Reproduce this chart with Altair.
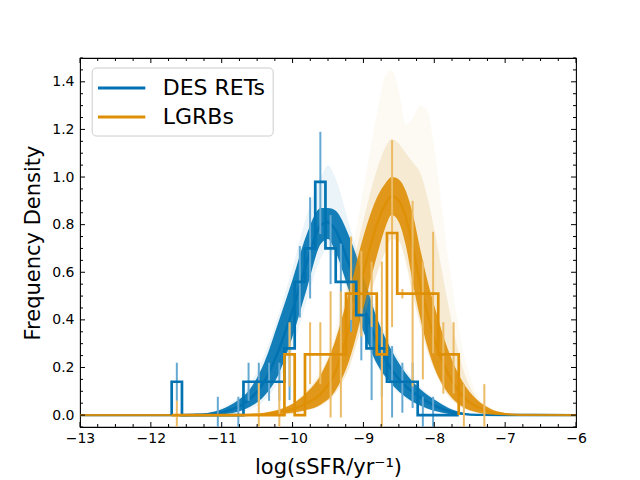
import altair as alt
import pandas as pd

BLUE = '#0173b2'
ORANGE = '#de8f05'
BLUE_ERR = '#65a9d3'
ORANGE_ERR = '#ebbb66'
SERIES = ['DES RETs', 'LGRBs']

# histogram bin edges (log sSFR)
BIN_EDGES = [-11.706, -11.561, -11.417, -11.272, -11.127, -10.983, -10.838, -10.693,
             -10.549, -10.404, -10.259, -10.115, -9.970, -9.825, -9.680, -9.536,
             -9.391, -9.246, -9.102, -8.957, -8.812, -8.668, -8.523, -8.378,
             -8.234, -8.089, -7.944, -7.800, -7.655, -7.510, -7.366, -7.221]

BLUE_HIST = [0.14, 0, 0, 0, 0, 0, 0, 0.14, 0.14, 0.14, 0.14, 0.28, 0.56, 0.70,
             0.98, 0.70, 0.56, 0.56, 0.42, 0.28, 0.28, 0.14, 0.14, 0.14, 0, 0, 0, 0]
ORANGE_HIST = [0, 0, 0, 0, 0, 0, 0, 0, 0, 0, 0, 0.255, 0, 0.255, 0.255, 0.255, 0.255,
               0.51, 0.51, 0.51, 0.255, 0.765, 0.51, 0.51, 0.51, 0.51, 0.255, 0.255]

# error bars (bin index, low, high)
BLUE_ERR_BIN = [0, 4, 6, 7, 8, 9, 10, 11, 12, 13, 14, 15, 16, 17, 18, 19, 20, 21, 22, 23, 24, 25]
BLUE_ERR_LO = [0.06, -0.06, -0.06, 0.06, 0.06, 0.06, 0.06, 0.063, 0.41, 0.49, 0.76, 0.55,
               0.35, 0.35, 0.23, 0.063, 0.077, -0.01, 0.01, 0.03, -0.06, -0.06]
BLUE_ERR_HI = [0.22, 0.077, 0.077, 0.22, 0.22, 0.22, 0.22, 0.385, 0.71, 0.915, 1.19, 0.84,
               0.72, 0.72, 0.45, 0.50, 0.36, 0.29, 0.22, 0.22, 0.077, 0.077]
ORANGE_ERR_BIN = [0, 8, 10, 11, 13, 14, 15, 16, 17, 18, 19, 20, 21, 22, 23, 24, 25, 26, 27, 28, 30]
ORANGE_ERR_LO = [-0.06, -0.06, -0.06, 0.12, 0.13, 0.13, -0.01, -0.01, 0.40, 0.33, 0.37, -0.06,
                 0.37, 0.49, 0.12, 0.15, 0.26, 0.09, 0.09, -0.06, -0.06]
ORANGE_ERR_HI = [0.06, 0.134, 0.134, 0.39, 0.39, 0.39, 0.52, 0.52, 0.75, 0.69, 0.645, 0.645,
                 1.155, 0.53, 0.90, 0.645, 0.77, 0.39, 0.39, 0.13, 0.13]

# fitted-curve bands
BLUE_X = [-13.0, -11.6, -11.4, -11.2, -11.0, -10.8, -10.6, -10.4, -10.2, -10.0, -9.8, -9.6, -9.5,
          -9.4, -9.2, -9.0, -8.8, -8.6, -8.4, -8.2, -8.0, -7.8, -7.6, -7.4, -6.0]
BLUE_MID = [0, 0, 0.001, 0.003, 0.012, 0.03, 0.068, 0.14, 0.27, 0.44, 0.64, 0.80, 0.81,
            0.78, 0.63, 0.46, 0.30, 0.19, 0.12, 0.075, 0.04, 0.017, 0.005, 0.001, 0]
BLUE_LO = [0, 0, 0, 0, 0.003, 0.012, 0.035, 0.08, 0.17, 0.33, 0.53, 0.72, 0.74,
           0.69, 0.52, 0.35, 0.21, 0.13, 0.075, 0.04, 0.018, 0.005, 0.001, 0, 0]
BLUE_HI = [0, 0, 0.002, 0.009, 0.025, 0.056, 0.11, 0.22, 0.39, 0.57, 0.76, 0.87, 0.87,
           0.86, 0.75, 0.58, 0.40, 0.27, 0.175, 0.11, 0.065, 0.03, 0.011, 0.002, 0]
BLUE_FAINT_LO = [0, 0, 0, 0, 0.002, 0.008, 0.025, 0.06, 0.14, 0.28, 0.48, 0.66, 0.70,
                 0.66, 0.50, 0.33, 0.20, 0.12, 0.07, 0.035, 0.015, 0.004, 0.001, 0, 0]
BLUE_FAINT_HI = [0, 0, 0.004, 0.012, 0.03, 0.065, 0.13, 0.25, 0.42, 0.62, 0.84, 1.0, 1.05,
                 1.0, 0.80, 0.60, 0.42, 0.29, 0.19, 0.12, 0.07, 0.035, 0.012, 0.003, 0]

ORANGE_X = [-13.0, -10.8, -10.6, -10.4, -10.2, -10.0, -9.8, -9.6, -9.4, -9.2, -9.0, -8.8, -8.7,
            -8.6, -8.5, -8.4, -8.3, -8.2, -8.1, -8.0, -7.8, -7.6, -7.4, -7.2, -7.0, -6.8, -6.0]
ORANGE_MID = [0, 0, 0.001, 0.004, 0.012, 0.025, 0.05, 0.09, 0.18, 0.37, 0.60, 0.81, 0.88,
              0.92, 0.90, 0.83, 0.70, 0.55, 0.43, 0.32, 0.17, 0.08, 0.035, 0.012, 0.004, 0.001, 0]
ORANGE_LO = [0, 0, 0, 0, 0.004, 0.01, 0.022, 0.045, 0.10, 0.23, 0.45, 0.68, 0.78,
             0.84, 0.81, 0.71, 0.55, 0.41, 0.29, 0.20, 0.09, 0.035, 0.012, 0.003, 0.001, 0, 0]
ORANGE_HI = [0, 0.001, 0.003, 0.009, 0.022, 0.048, 0.095, 0.17, 0.31, 0.52, 0.75, 0.92, 0.97,
             1.0, 0.99, 0.94, 0.84, 0.70, 0.57, 0.46, 0.27, 0.14, 0.065, 0.026, 0.009, 0.003, 0]
ORANGE_FAINT_LO = [0, 0, 0, 0, 0.002, 0.005, 0.02, 0.04, 0.09, 0.20, 0.40, 0.60, 0.68,
                   0.74, 0.73, 0.64, 0.50, 0.38, 0.27, 0.19, 0.08, 0.03, 0.01, 0.002, 0, 0, 0]
ORANGE_FAINT_HI = [0, 0.002, 0.006, 0.012, 0.025, 0.05, 0.10, 0.18, 0.32, 0.56, 0.82, 1.04, 1.12,
                   1.16, 1.14, 1.10, 1.06, 1.02, 0.92, 0.78, 0.46, 0.20, 0.07, 0.025, 0.008, 0.003, 0]
ORANGE_PALE_HI = [0, 0.002, 0.006, 0.012, 0.025, 0.05, 0.11, 0.20, 0.36, 0.62, 0.95, 1.28, 1.42,
                  1.45, 1.36, 1.22, 1.25, 1.30, 1.28, 1.12, 0.65, 0.28, 0.09, 0.03, 0.01, 0.003, 0]

X_MAJOR = [-13, -12, -11, -10, -9, -8, -7, -6]
X_MINOR = [m + q for m in X_MAJOR[:-1] for q in (0.25, 0.5, 0.75)]
Y_MAJOR = [0.0, 0.2, 0.4, 0.6, 0.8, 1.0, 1.2, 1.4]
Y_MINOR = [round(-0.05 + 0.05 * i, 2) for i in range(32)]
Y_MINOR = [v for v in Y_MINOR if all(abs(v - m) > 1e-6 for m in Y_MAJOR)]

W, H = 496, 369
XS = alt.Scale(domain=[-13, -6], nice=False, zero=False)
YS = alt.Scale(domain=[-0.05, 1.5], nice=False, zero=False)
FONT = 'DejaVu Sans'

X_AXIS = alt.Axis(values=X_MAJOR, format='d', title='log(sSFR/yr⁻¹)', ticks=False, domain=False,
                  grid=False, labelFontSize=14, labelPadding=4, titleFontSize=21,
                  titleFontWeight='normal', titlePadding=11, labelColor='black',
                  titleColor='black', labelFlush=False, labelOverlap=False,
                  labelFont=FONT, titleFont=FONT)
Y_AXIS = alt.Axis(values=Y_MAJOR, format='.1f', title='Frequency Density', ticks=False,
                  domain=False, grid=False, labelFontSize=14, labelPadding=6,
                  titleFontSize=21, titleFontWeight='normal', titlePadding=8,
                  labelColor='black', titleColor='black', labelFlush=False,
                  labelOverlap=False, labelFont=FONT, titleFont=FONT)

# ---- data tables
blue_band = pd.DataFrame({'x': BLUE_X, 'mid': BLUE_MID, 'lo': BLUE_LO, 'hi': BLUE_HI,
                          'flo': BLUE_FAINT_LO, 'fhi': BLUE_FAINT_HI})
orange_band = pd.DataFrame({'x': ORANGE_X, 'mid': ORANGE_MID, 'lo': ORANGE_LO, 'hi': ORANGE_HI,
                            'flo': ORANGE_FAINT_LO, 'fhi': ORANGE_FAINT_HI, 'phi': ORANGE_PALE_HI})


def step_rows(name, heights):
    rows = [{'series': name, 'x': BIN_EDGES[0], 'y': 0.0, 'i': 0}]
    for k, h in enumerate(heights):
        rows.append({'series': name, 'x': BIN_EDGES[k], 'y': h, 'i': k + 1})
    rows.append({'series': name, 'x': BIN_EDGES[len(heights)], 'y': 0.0, 'i': len(heights) + 1})
    return rows


hist = pd.DataFrame(step_rows(SERIES[0], BLUE_HIST) + step_rows(SERIES[1], ORANGE_HIST))


def err_df(bins, lo, hi):
    return pd.DataFrame({'x': [(BIN_EDGES[b] + BIN_EDGES[b + 1]) / 2 for b in bins],
                         'lo': lo, 'hi': hi})


blue_err = err_df(BLUE_ERR_BIN, BLUE_ERR_LO, BLUE_ERR_HI)
orange_err = err_df(ORANGE_ERR_BIN, ORANGE_ERR_LO, ORANGE_ERR_HI)

xn = alt.X('x:Q', scale=XS, axis=X_AXIS)


def yq(field):
    return alt.Y(f'{field}:Q', scale=YS, axis=Y_AXIS)


def band(df, lo, hi, color, opacity):
    return alt.Chart(df).mark_area(interpolate='monotone', clip=True, color=color,
                                   opacity=opacity).encode(
        x=xn, y=yq(lo), y2=alt.Y2(f'{hi}:Q'))


def midline(df, color, opacity=1.0):
    return alt.Chart(df).mark_line(interpolate='monotone', clip=True, color=color,
                                   strokeWidth=2.4, opacity=opacity).encode(
        x=xn, y=yq('mid'))


def errbars(df, color):
    return alt.Chart(df).mark_rule(clip=True, color=color, strokeWidth=2).encode(
        x=xn, y=yq('lo'), y2=alt.Y2('hi:Q'))


steps = alt.Chart(hist).mark_line(interpolate='step-after', strokeWidth=2.7, clip=True).encode(
    x=xn, y=yq('y'),
    color=alt.Color('series:N', scale=alt.Scale(domain=SERIES, range=[BLUE, ORANGE]),
                    legend=alt.Legend(orient='none', legendX=11.7, legendY=9.5, title=None,
                                      labelFontSize=22, labelFont=FONT, labelColor='black',
                                      symbolType='M-1.2,0H2.8', symbolSize=560,
                                      symbolStrokeWidth=2.8, labelOffset=37, padding=7,
                                      rowPadding=4,
                                      fillColor='rgba(255,255,255,0.85)', strokeColor='#cccccc',
                                      cornerRadius=4)),
    order=alt.Order('i:Q'))


def tick_layer(vals, axis, side, length):
    df = pd.DataFrame({'v': vals})
    base = alt.Chart(df).mark_rule(color='black', strokeWidth=1)
    if axis == 'x':
        enc = dict(x=alt.X('v:Q', scale=XS, axis=X_AXIS))
        if side == 'bottom':
            enc.update(y=alt.value(H), y2=alt.value(H - length))
        else:
            enc.update(y=alt.value(0), y2=alt.value(length))
    else:
        enc = dict(y=alt.Y('v:Q', scale=YS, axis=Y_AXIS))
        if side == 'left':
            enc.update(x=alt.value(0), x2=alt.value(length))
        else:
            enc.update(x=alt.value(W), x2=alt.value(W - length))
    return base.encode(**enc)


ticks = [tick_layer(X_MAJOR, 'x', 'bottom', 5), tick_layer(X_MAJOR, 'x', 'top', 5),
         tick_layer(X_MINOR, 'x', 'bottom', 3), tick_layer(X_MINOR, 'x', 'top', 3),
         tick_layer(Y_MAJOR, 'y', 'left', 5), tick_layer(Y_MAJOR, 'y', 'right', 5),
         tick_layer(Y_MINOR, 'y', 'left', 3), tick_layer(Y_MINOR, 'y', 'right', 3)]

chart = alt.layer(
    band(blue_band, 'flo', 'fhi', BLUE, 0.08),
    band(blue_band, 'lo', 'hi', BLUE, 0.92),
    midline(blue_band, BLUE),
    band(orange_band, 'flo', 'phi', '#d9a24a', 0.06),
    band(orange_band, 'flo', 'fhi', '#dc9a2a', 0.16),
    band(orange_band, 'lo', 'hi', ORANGE, 0.9),
    midline(orange_band, ORANGE, 0.9),
    errbars(blue_err, BLUE_ERR),
    errbars(orange_err, ORANGE_ERR),
    steps,
    *ticks,
).properties(
    width=W, height=H,
    padding={'left': 72, 'top': 50, 'right': 56, 'bottom': 52},
    autosize=alt.AutoSizeParams(type='none'),
).configure(font=FONT).configure_view(stroke='black', strokeWidth=1.1)

chart.save('out.html', embed_options={'renderer': 'svg', 'actions': False})
